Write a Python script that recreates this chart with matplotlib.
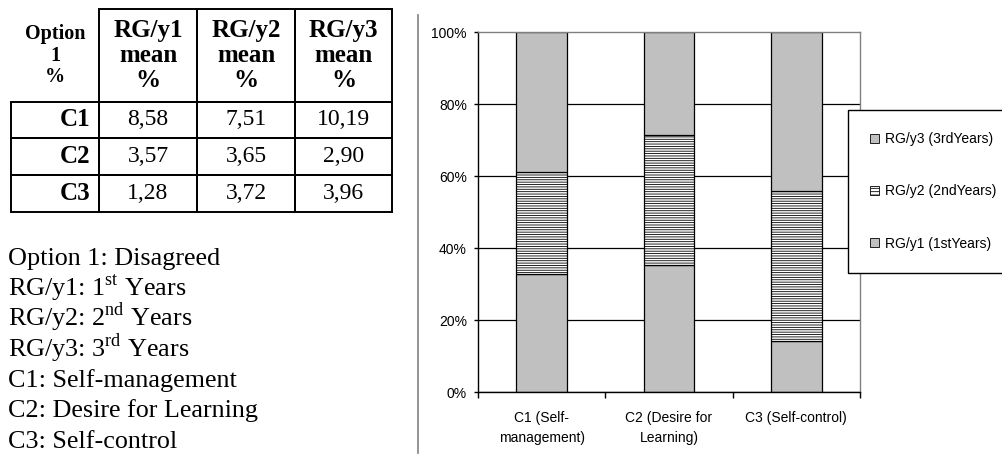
import numpy as np
import matplotlib
matplotlib.use("Agg")
import matplotlib.pyplot as plt
from matplotlib.table import Table
from matplotlib.patches import Patch, Rectangle
from matplotlib.lines import Line2D

# table values (Option 1 = Disagreed), mean %
categories = ["C1", "C2", "C3"]
rg_y1 = [8.58, 3.57, 1.28]
rg_y2 = [7.51, 3.65, 3.72]
rg_y3 = [10.19, 2.90, 3.96]
header = ["Option\n1\n%", "RG/y1\nmean\n%", "RG/y2\nmean\n%", "RG/y3\nmean\n%"]
value_labels = [["8,58", "7,51", "10,19"],
                ["3,57", "3,65", "2,90"],
                ["1,28", "3,72", "3,96"]]
xlabels = ["C1 (Self-\nmanagement)", "C2 (Desire for\nLearning)", "C3 (Self-control)"]
legend_labels = ["RG/y1 (1stYears)", "RG/y2 (2ndYears)", "RG/y3 (3rdYears)"]
notes = ["Option 1: Disagreed",
         r"RG/y1: 1$^{\mathrm{st}}$ Years",
         r"RG/y2: 2$^{\mathrm{nd}}$ Years",
         r"RG/y3: 3$^{\mathrm{rd}}$ Years",
         "C1: Self-management",
         "C2: Desire for Learning",
         "C3: Self-control"]

plt.rcParams['mathtext.fontset'] = 'custom'
plt.rcParams['mathtext.rm'] = 'Liberation Serif'
plt.rcParams['hatch.linewidth'] = 0.6
plt.rcParams['hatch.color'] = 'black'

W, H = 1003, 455
fig = plt.figure(figsize=(W / 100, H / 100), dpi=100)

def fx(px):
    return px / W

def fy(py):
    return 1 - py / H

serif = 'Liberation Serif'
sans = 'Liberation Sans'

# ---- table on the left ----
tax = fig.add_axes([fx(11), fy(211.7), fx(392 - 11), (211.7 - 9.5) / H])
tax.axis('off')
tbl = Table(tax, bbox=[0, 0, 1, 1])
col_w = [88, 98, 98, 97]
for c in range(4):
    cell = tbl.add_cell(0, c, col_w[c], 92, text=header[c], loc='center',
                        edgecolor='black', facecolor='none')
    cell.set_linewidth(1.4)
    t = cell.get_text()
    t.set_fontfamily(serif)
    t.set_fontweight('bold')
    t.set_fontsize(14.5 if c == 0 else 18)
    t.set_linespacing(1.1 if c == 0 else 1.12)
    if c == 0:
        cell.visible_edges = ''
for r in range(3):
    cell = tbl.add_cell(r + 1, 0, col_w[0], 36.7, text=categories[r], loc='right',
                        edgecolor='black', facecolor='none')
    cell.set_linewidth(1.4)
    t = cell.get_text()
    t.set_fontfamily(serif)
    t.set_fontweight('bold')
    t.set_fontsize(18)
    for c in range(3):
        cell = tbl.add_cell(r + 1, c + 1, col_w[c + 1], 36.7, text=value_labels[r][c],
                            loc='center', edgecolor='black', facecolor='none')
        cell.set_linewidth(1.4)
        t = cell.get_text()
        t.set_fontfamily(serif)
        t.set_fontsize(17)
tbl.auto_set_font_size(False)
tax.add_table(tbl)

# ---- legend notes ----
for i, line in enumerate(notes):
    fig.text(fx(8), fy(265 + i * 30.5), line, family=serif, fontsize=18.8, va='baseline')

# separator line
fig.add_artist(Line2D([fx(418), fx(418)], [fy(15), fy(453)], transform=fig.transFigure,
                      color='#808080', lw=1.2))

# ---- stacked 100% bar chart ----
vals = np.array([rg_y1, rg_y2, rg_y3])
pct = vals / vals.sum(axis=0) * 100
x = np.arange(len(categories))

ax = fig.add_axes([fx(478), fy(392), fx(860 - 478), 360 / H])
bottom = np.zeros(len(categories))
ax.bar(x, pct[0], 0.4, bottom=bottom, color='#c0c0c0', edgecolor='black', lw=0.9)
bottom += pct[0]
ax.bar(x, pct[1], 0.4, bottom=bottom, color='white', edgecolor='black', lw=0.9,
       hatch='-------')
bottom += pct[1]
ax.bar(x, pct[2], 0.4, bottom=bottom, color='#c0c0c0', edgecolor='black', lw=0.9)

ax.set_xlim(-0.5, 2.5)
ax.set_ylim(0, 100)
ax.set_yticks([0, 20, 40, 60, 80, 100])
ax.set_yticklabels(["0%", "20%", "40%", "60%", "80%", "100%"], family=sans, fontsize=10)
ax.set_xticks(x)
ax.set_xticklabels(xlabels, family=sans, fontsize=10)
for lbl in ax.get_xticklabels():
    lbl.set_linespacing(1.5)
ax.set_xticks([-0.5, 0.5, 1.5, 2.5], minor=True)
ax.tick_params(axis='x', which='major', length=0, pad=14)
ax.tick_params(axis='x', which='minor', length=4, width=1, color='black')
ax.tick_params(axis='y', length=3, width=1, pad=5, color='black')
ax.set_axisbelow(True)
ax.grid(axis='y', color='black', lw=0.9)
ax.get_ygridlines()[-1].set_visible(False)
for s in ['top', 'right']:
    ax.spines[s].set_color('#808080')
    ax.spines[s].set_linewidth(1.0)
for s in ['left', 'bottom']:
    ax.spines[s].set_color('black')
    ax.spines[s].set_linewidth(1.0)

# legend box runs past the right edge of the figure, as in the original
fig.add_artist(Rectangle((fx(848), fy(273)), fx(220), (273 - 110) / H,
                         transform=fig.transFigure, facecolor='white',
                         edgecolor='black', lw=1.0, zorder=4))
handles = [Patch(facecolor='#c0c0c0', edgecolor='black', lw=0.6),
           Patch(facecolor='white', edgecolor='black', lw=0.6, hatch='-----'),
           Patch(facecolor='#c0c0c0', edgecolor='black', lw=0.6)]
leg = fig.legend(handles[::-1], legend_labels[::-1], loc='upper left',
                 bbox_to_anchor=(fx(848), 0, fx(150), fy(110)),
                 borderaxespad=0, borderpad=1.6, labelspacing=2.75,
                 handlelength=0.6, handleheight=0.6, handletextpad=0.45,
                 frameon=False, prop={'family': sans, 'size': 10})
leg.set_zorder(5)

fig.savefig("out.png", dpi=100)
